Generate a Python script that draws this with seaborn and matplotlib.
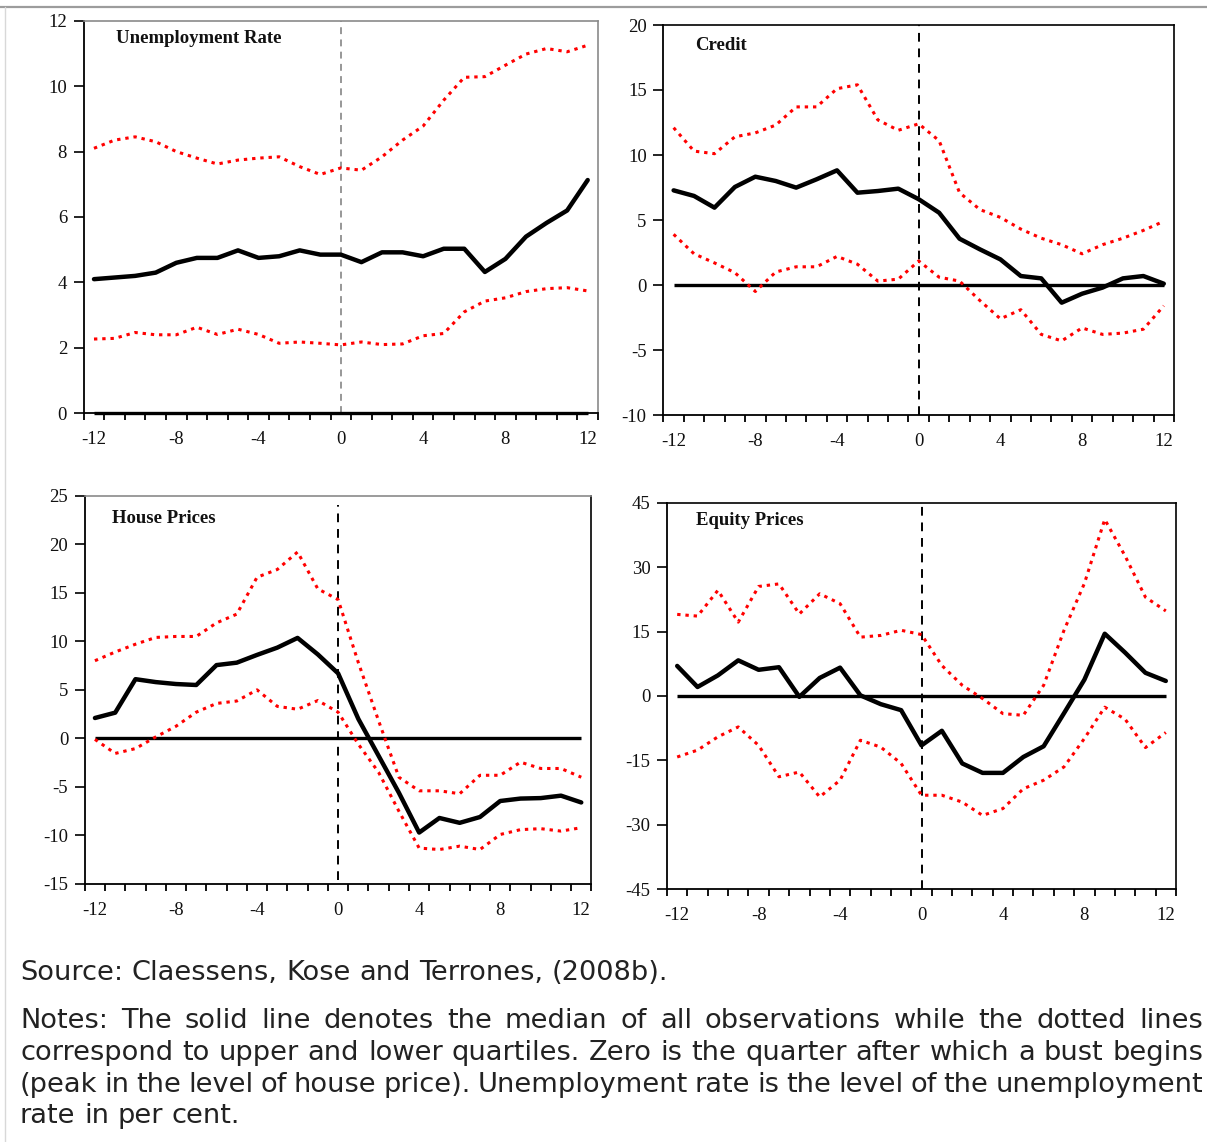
import numpy as np
import pandas as pd
import matplotlib
matplotlib.use("Agg")
import matplotlib.pyplot as plt
import seaborn as sns
from matplotlib.lines import Line2D

# Quarters relative to the start of the house-price bust
quarters = list(range(-12, 13))
x_tick_values = [-12, -8, -4, 0, 4, 8, 12]
x_tick_labels = ["-12", "-8", "-4", "0", "4", "8", "12"]

# Unemployment rate (level, per cent)
unemp_median = [4.1, 4.15, 4.2, 4.3, 4.6, 4.75, 4.75, 4.98, 4.75, 4.8, 4.98, 4.85, 4.85,
                4.62, 4.92, 4.92, 4.8, 5.03, 5.03, 4.32, 4.72, 5.4, 5.82, 6.2, 7.13]
unemp_upper = [8.1, 8.35, 8.45, 8.3, 8.0, 7.8, 7.62, 7.74, 7.8, 7.84, 7.54, 7.3, 7.5,
               7.43, 7.84, 8.35, 8.78, 9.57, 10.27, 10.29, 10.64, 10.98, 11.15, 11.05, 11.25]
unemp_lower = [2.27, 2.29, 2.47, 2.4, 2.4, 2.63, 2.41, 2.57, 2.41, 2.14, 2.18, 2.14, 2.09,
               2.18, 2.1, 2.12, 2.37, 2.44, 3.1, 3.43, 3.53, 3.72, 3.81, 3.84, 3.74]

# Credit growth
credit_median = [7.28, 6.85, 5.95, 7.54, 8.33, 8.0, 7.49, 8.13, 8.82, 7.1, 7.23, 7.41, 6.6,
                 5.56, 3.56, 2.74, 1.97, 0.69, 0.51, -1.36, -0.67, -0.2, 0.51, 0.69, 0.1]
credit_upper = [12.1, 10.3, 10.1, 11.4, 11.7, 12.3, 13.7, 13.7, 15.1, 15.4, 12.7, 11.9, 12.4,
                11.1, 7.1, 5.8, 5.2, 4.3, 3.6, 3.1, 2.4, 3.1, 3.6, 4.2, 4.9]
credit_lower = [3.9, 2.4, 1.7, 0.95, -0.5, 1.0, 1.4, 1.4, 2.2, 1.6, 0.3, 0.45, 1.85,
                0.6, 0.3, -1.2, -2.6, -1.9, -3.8, -4.3, -3.3, -3.8, -3.7, -3.4, -1.6]

# House price growth
house_median = [2.1, 2.65, 6.1, 5.8, 5.6, 5.5, 7.55, 7.8, 8.6, 9.35, 10.35, 8.65, 6.7,
                2.0, -1.8, -5.6, -9.7, -8.2, -8.7, -8.1, -6.45, -6.2, -6.15, -5.9, -6.6]
house_upper = [8.0, 8.9, 9.7, 10.4, 10.5, 10.5, 11.9, 12.8, 16.6, 17.4, 19.2, 15.4, 14.3,
               7.8, 1.8, -4.0, -5.4, -5.4, -5.7, -3.8, -3.8, -2.45, -3.1, -3.1, -4.0]
house_lower = [-0.1, -1.55, -1.05, 0.15, 1.25, 2.7, 3.6, 3.85, 5.0, 3.3, 3.0, 3.9, 2.7,
               -0.6, -3.5, -7.5, -11.3, -11.45, -11.1, -11.45, -9.9, -9.4, -9.3, -9.55, -9.2]

# Equity price growth
equity_median = [7.0, 2.1, 4.8, 8.3, 6.1, 6.7, -0.2, 4.2, 6.6, 0.15, -1.9, -3.3, -11.5,
                 -8.1, -15.7, -17.9, -17.9, -14.2, -11.7, -4.0, 3.8, 14.5, 10.1, 5.4, 3.5]
equity_upper = [19.0, 18.6, 24.6, 17.2, 25.5, 26.1, 19.1, 23.8, 21.5, 13.7, 14.1, 15.3, 14.3,
                7.1, 2.5, -0.6, -4.1, -4.5, 2.5, 15.3, 26.2, 41.1, 32.6, 23.0, 19.8]
equity_lower = [-14.2, -12.6, -9.5, -7.2, -11.5, -18.8, -17.7, -23.5, -19.6, -10.3, -11.9, -15.7, -23.1,
                -23.1, -24.7, -27.8, -26.2, -21.6, -19.6, -16.5, -9.9, -2.6, -5.4, -12.0, -8.5]

source_text = "Source: Claessens, Kose and Terrones, (2008b)."
note_lines = [
    "Notes: The solid line denotes the median of all observations while the dotted lines",
    "correspond to upper and lower quartiles. Zero is the quarter after which a bust begins",
    "(peak in the level of house price). Unemployment rate is the level of the unemployment",
    "rate in per cent.",
]

sns.set_theme(style="ticks")
plt.rcParams["font.family"] = ["Liberation Serif", "DejaVu Sans"]

W, H = 1207, 1142
fig = plt.figure(figsize=(W / 100, H / 100), dpi=100)
fig.patch.set_facecolor("white")


def px_rect(left, top, right, bottom):
    return [left / W, 1 - bottom / H, (right - left) / W, (bottom - top) / H]


panels = [
    dict(title="Unemployment Rate", med=unemp_median, up=unemp_upper, lo=unemp_lower,
         ylim=(0, 12), yticks=list(range(0, 13, 2)), rect=(83.7, 20.7, 598, 413.3),
         title_pos=(0.062, 0.943), vcolor="#7a7a7a", vlw=1.1, frame="#8a8a8a", vspan=(0, 1)),
    dict(title="Credit", med=credit_median, up=credit_upper, lo=credit_lower,
         ylim=(-10, 20), yticks=list(range(-10, 21, 5)), rect=(663.4, 25, 1174, 415),
         title_pos=(0.062, 0.936), vcolor="black", vlw=1.4, frame="black", vspan=(0, 1)),
    dict(title="House Prices", med=house_median, up=house_upper, lo=house_lower,
         ylim=(-15, 25), yticks=list(range(-15, 26, 5)), rect=(84.8, 495.7, 591.4, 884),
         title_pos=(0.053, 0.93), vcolor="black", vlw=1.4, frame="#8a8a8a", vspan=(0.01, 0.977)),
    dict(title="Equity Prices", med=equity_median, up=equity_upper, lo=equity_lower,
         ylim=(-45, 45), yticks=list(range(-45, 46, 15)), rect=(667, 502.7, 1176, 889.3),
         title_pos=(0.057, 0.942), vcolor="black", vlw=1.4, frame="black", vspan=(0, 1)),
]

for i, p in enumerate(panels):
    ax = fig.add_axes(px_rect(*p["rect"]))
    df = pd.DataFrame({"quarter": quarters, "median": p["med"],
                       "upper": p["up"], "lower": p["lo"]})

    ax.axvline(0, ymin=p["vspan"][0], ymax=p["vspan"][1], color=p["vcolor"],
               lw=p["vlw"], ls=(0, (4.5, 3.5)), zorder=1)
    ax.hlines(0, quarters[0], quarters[-1], color="black", lw=2.4, zorder=2,
              clip_on=False)

    for col in ("upper", "lower"):
        sns.lineplot(data=df, x="quarter", y=col, ax=ax, color="#ff0000", lw=2.2,
                     linestyle=(0, (1.1, 1.6)), zorder=3)
    sns.lineplot(data=df, x="quarter", y="median", ax=ax, color="black", lw=3.2,
                 zorder=4)

    ax.set_xlim(-12.5, 12.5)
    ax.set_ylim(*p["ylim"])
    ax.set_xlabel("")
    ax.set_ylabel("")
    ax.set_xticks(x_tick_values)
    ax.set_xticklabels(x_tick_labels)
    ax.set_xticks(np.arange(-12.5, 12.6, 1.0), minor=True)
    ax.set_yticks(p["yticks"])
    ax.set_yticklabels([str(v) for v in p["yticks"]])

    ax.tick_params(axis="x", which="major", length=0, pad=13, labelsize=13.5,
                   labelcolor="#111111")
    ax.tick_params(axis="x", which="minor", length=5, width=1.3, direction="out",
                   color="black")
    ax.tick_params(axis="y", which="major", length=7, width=1.2, direction="out",
                   pad=5, labelsize=13.5, labelcolor="#111111", color="black")
    ax.tick_params(axis="y", which="minor", left=False)

    for side in ("left", "bottom"):
        ax.spines[side].set_color("black")
        ax.spines[side].set_linewidth(1.3)
    ax.spines["top"].set_visible(True)
    ax.spines["right"].set_visible(True)
    ax.spines["top"].set_color(p["frame"])
    ax.spines["right"].set_color("black" if i == 2 else p["frame"])
    ax.spines["top"].set_linewidth(1.2)
    ax.spines["right"].set_linewidth(1.2)

    ax.text(p["title_pos"][0], p["title_pos"][1], p["title"], transform=ax.transAxes,
            fontsize=13.5, fontweight="bold", family="Liberation Serif",
            ha="left", va="baseline", color="#111111")

# Page rules around the figure block
fig.add_artist(Line2D([0, 1], [1 - 7 / H, 1 - 7 / H], transform=fig.transFigure,
                      color="#9c9c9c", lw=1.6))
fig.add_artist(Line2D([5 / W, 5 / W], [0, 1 - 7 / H], transform=fig.transFigure,
                      color="#d8d8d8", lw=1.0))

# Source and justified notes underneath the panels
renderer = fig.canvas.get_renderer()
text_kw = dict(fontsize=19.6, family="DejaVu Sans", color="#222222", va="baseline",
               ha="left")


def place_line(line, baseline_px, x0, x1, justify):
    words = line.split(" ")
    texts = [fig.text(0, 1 - baseline_px / H, w, **text_kw) for w in words]
    widths = [t.get_window_extent(renderer).width for t in texts]
    probe = fig.text(0, 0, "a a", **text_kw)
    probe_a = fig.text(0, 0, "aa", **text_kw)
    space = probe.get_window_extent(renderer).width - probe_a.get_window_extent(renderer).width
    probe.remove()
    probe_a.remove()
    if justify and len(words) > 1:
        gap = (x1 - x0 - sum(widths)) / (len(words) - 1)
    else:
        gap = space
    x = x0
    for t, w in zip(texts, widths):
        t.set_x(x / W)
        x += w + gap


place_line(source_text, 980, 20, 1203, False)
baselines = [1028, 1060, 1092, 1123]
for k, (line, b) in enumerate(zip(note_lines, baselines)):
    place_line(line, b, 20, 1203, k < len(note_lines) - 1)

fig.savefig("out.png", dpi=100, facecolor="white")
